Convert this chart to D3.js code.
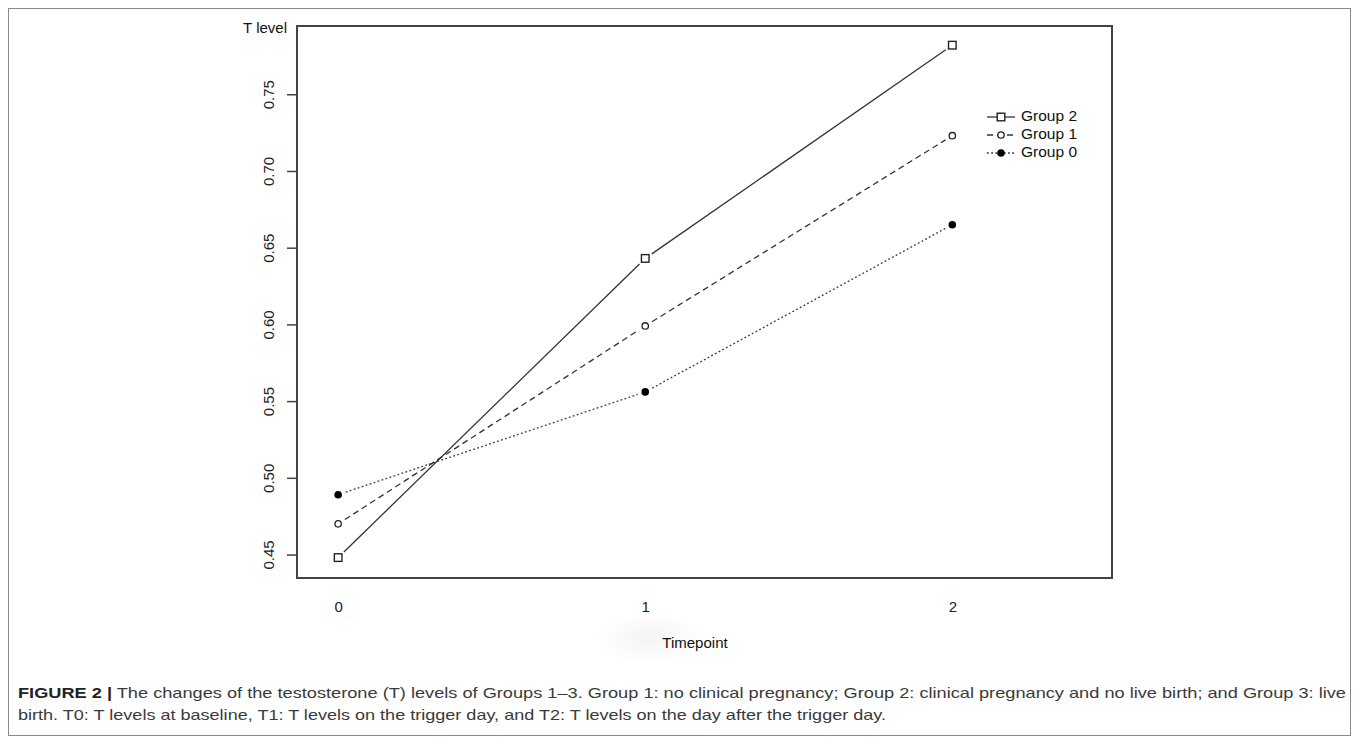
<!DOCTYPE html>
<html><head><meta charset="utf-8">
<script src="https://cdn.jsdelivr.net/npm/d3@7/dist/d3.min.js"></script>
<style>body{margin:0;background:#fff}svg{display:block}</style>
</head><body><svg id="c" width="1360" height="744"></svg>
<script>
const timepoints = [0, 1, 2];
const yTicks = [0.45, 0.50, 0.55, 0.60, 0.65, 0.70, 0.75];
const group2 = [0.448, 0.643, 0.782];
const group1 = [0.470, 0.599, 0.723];
const group0 = [0.489, 0.556, 0.665];
const legendLabels = ["Group 2", "Group 1", "Group 0"];
const captionBold = "FIGURE 2 |";
const captionLine1 = " The changes of the testosterone (T) levels of Groups 1\u20133. Group 1: no clinical pregnancy; Group 2: clinical pregnancy and no live birth; and Group 3: live";
const captionLine2 = "birth. T0: T levels at baseline, T1: T levels on the trigger day, and T2: T levels on the day after the trigger day.";

const svg = d3.select("#c");
const L = 297, R = 1112, T = 26, B = 578;
const x = d3.scaleLinear().domain([-0.134, 2.52]).range([L, R]);
const y = d3.scaleLinear().domain([0.4347, 0.7945]).range([B, T]);
const font = "'Liberation Sans', Arial, Helvetica, sans-serif";
const fs = 15;

// figure border
svg.append("rect").attr("x", 8.5).attr("y", 8.5).attr("width", 1342).attr("height", 727)
  .attr("fill", "none").attr("stroke", "#8a8a8a").attr("stroke-width", 1);

// faint artifact blob
const defs = svg.append("defs");
const rg = defs.append("radialGradient").attr("id", "blob");
rg.append("stop").attr("offset", "0%").attr("stop-color", "#f4f4f4");
rg.append("stop").attr("offset", "100%").attr("stop-color", "#ffffff");
svg.append("ellipse").attr("cx", 650).attr("cy", 638).attr("rx", 55).attr("ry", 26).attr("fill", "url(#blob)");

// y axis
const yAxis = d3.axisLeft(y).tickValues(yTicks).tickSize(10).tickSizeOuter(0).tickFormat(d3.format(".2f"));
const gy = svg.append("g").attr("transform", `translate(${L},0)`).call(yAxis);
gy.select(".domain").remove();
gy.selectAll(".tick line").attr("stroke", "#444").attr("stroke-width", 1.5);
gy.selectAll(".tick text")
  .attr("font-family", font).attr("font-size", fs).attr("fill", "#222")
  .attr("text-anchor", "middle").attr("x", 0).attr("dy", 0)
  .attr("transform", "translate(-27,0) rotate(-90)")
  .attr("dominant-baseline", "middle");

// x axis (labels only)
const xAxis = d3.axisBottom(x).tickValues(timepoints).tickSize(0).tickFormat(d3.format("d"));
const gx = svg.append("g").attr("transform", `translate(0,${B})`).call(xAxis);
gx.select(".domain").remove();
gx.selectAll(".tick text").attr("font-family", font).attr("font-size", fs).attr("fill", "#222").attr("y", 23);

// frame
svg.append("rect").attr("x", L).attr("y", T).attr("width", R - L).attr("height", B - T)
  .attr("fill", "none").attr("stroke", "#444").attr("stroke-width", 2);

// axis titles
svg.append("text").attr("x", 287).attr("y", 33).attr("text-anchor", "end")
  .attr("font-family", font).attr("font-size", fs).attr("fill", "#111").text("T level");
svg.append("text").attr("x", 695).attr("y", 648).attr("text-anchor", "middle")
  .attr("font-family", font).attr("font-size", fs).attr("fill", "#111").text("Timepoint");

const series = [
  {vals: group2, dash: null, shape: "square"},
  {vals: group1, dash: "6,4", shape: "open"},
  {vals: group0, dash: "1.8,2.4", shape: "filled"}
];
const line = d3.line();

function marker(g, shape, cx, cy) {
  if (shape === "square") {
    g.append("rect").attr("x", cx - 3.8).attr("y", cy - 3.8).attr("width", 7.6).attr("height", 7.6)
      .attr("fill", "#fff").attr("stroke", "#222").attr("stroke-width", 1.4);
  } else if (shape === "open") {
    g.append("circle").attr("cx", cx).attr("cy", cy).attr("r", 3.2).attr("fill", "#fff")
      .attr("stroke", "#222").attr("stroke-width", 1.3);
  } else {
    g.append("circle").attr("cx", cx).attr("cy", cy).attr("r", 3.8).attr("fill", "#000");
  }
}

series.forEach(s => {
  const g = svg.append("g");
  for (let i = 0; i < s.vals.length - 1; i++) {
    const x1 = x(timepoints[i]), y1 = y(s.vals[i]), x2 = x(timepoints[i + 1]), y2 = y(s.vals[i + 1]);
    const len = Math.hypot(x2 - x1, y2 - y1), gap = 8;
    const ux = (x2 - x1) / len, uy = (y2 - y1) / len;
    g.append("path")
      .attr("d", line([[x1 + ux * gap, y1 + uy * gap], [x2 - ux * gap, y2 - uy * gap]]))
      .attr("fill", "none").attr("stroke", "#333").attr("stroke-width", 1.3)
      .attr("stroke-dasharray", s.dash);
  }
  s.vals.forEach((v, i) => marker(g, s.shape, x(timepoints[i]), y(v)));
});

// legend
const legY = [117, 135, 153];
series.forEach((s, i) => {
  const g = svg.append("g");
  g.append("line").attr("x1", 987).attr("x2", 1015).attr("y1", legY[i]).attr("y2", legY[i])
    .attr("stroke", "#333").attr("stroke-width", 1.3).attr("stroke-dasharray", s.dash);
  marker(g, s.shape, 1001, legY[i]);
  g.append("text").attr("x", 1021).attr("y", legY[i]).attr("dominant-baseline", "middle")
    .attr("font-family", font).attr("font-size", 15.5).attr("fill", "#111").text(legendLabels[i]);
});

// caption
const capFont = "'Liberation Sans Narrow', 'Liberation Sans', Arial, sans-serif";
const t1 = svg.append("text").attr("x", 18).attr("y", 698).attr("font-family", capFont)
  .attr("font-size", 14.5).attr("fill", "#3a3a3a").attr("textLength", 1328).attr("lengthAdjust", "spacingAndGlyphs");
t1.append("tspan").attr("font-weight", "bold").attr("fill", "#222").text(captionBold);
t1.append("tspan").text(captionLine1);
svg.append("text").attr("x", 18).attr("y", 720).attr("font-family", capFont)
  .attr("font-size", 14.5).attr("fill", "#3a3a3a").attr("textLength", 868).attr("lengthAdjust", "spacingAndGlyphs")
  .text(captionLine2);
</script></body></html>
